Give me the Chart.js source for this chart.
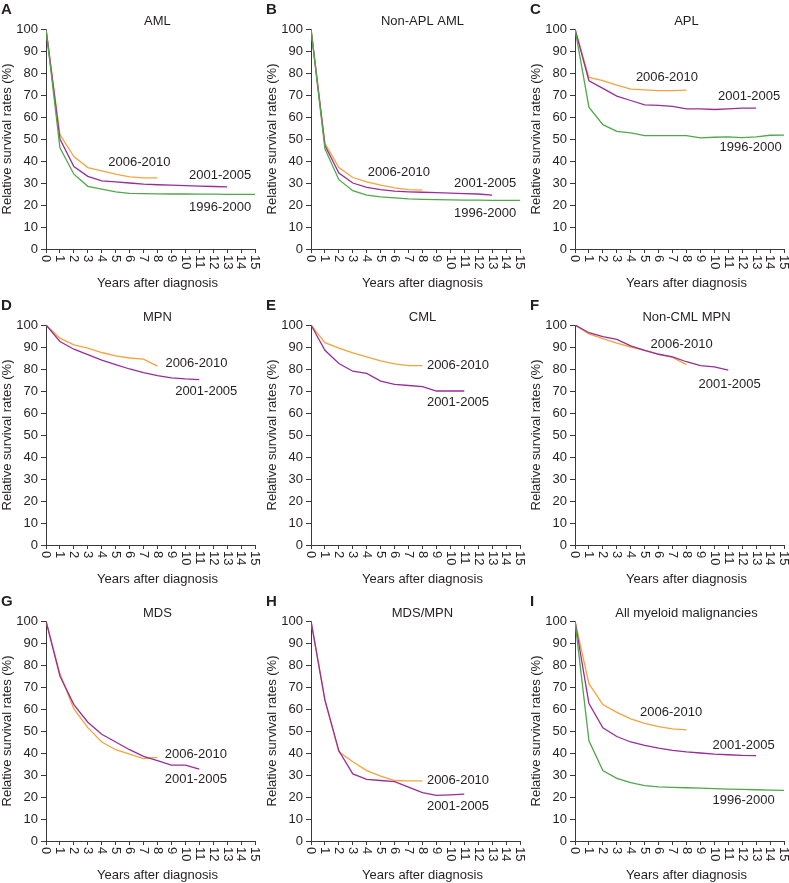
<!DOCTYPE html>
<html>
<head>
<meta charset="utf-8">
<script src="https://cdn.jsdelivr.net/npm/chart.js@4.4.1/dist/chart.umd.min.js"></script>
<style>
  body { margin:0; background:#fff; }
  #wrap { position:relative; width:789px; height:883px; overflow:hidden; }
  #wrap canvas { position:absolute; }
</style>
</head>
<body>
<div id="wrap"></div>
<script>
// ---------- data (relative survival %, by year after diagnosis) ----------
const years = [0,1,2,3,4,5,6,7,8,9,10,11,12,13,14,15];
const xTicks = years;
const yTicks = [0,10,20,30,40,50,60,70,80,90,100];
const periods = ['2006-2010','2001-2005','1996-2000'];

const aml2006 = [100,52,42,37,35.5,34,32.8,32.3,32.3];
const aml2001 = [100,50,37.5,33,31,30.5,30,29.5,29.2,29,28.8,28.6,28.4,28.2];
const aml1996 = [100,46,34,28.5,27.2,26,25.3,25.2,25.1,25,25,24.9,24.9,24.8,24.8,24.8];

const nonApl2006 = [100,48,37,32.5,30.5,29,27.8,27,26.8];
const nonApl2001 = [100,47,34.5,30,28,27,26.3,26,25.8,25.6,25.4,25.2,25,24.5];
const nonApl1996 = [100,45.5,31.5,26.5,24.5,23.7,23.2,22.8,22.6,22.4,22.3,22.2,22.2,22.1,22.1,22.1];

const apl2006 = [100,78,76.5,74.5,72.7,72.3,72,72,72.2];
const apl2001 = [100,76.5,73,69.5,67.5,65.5,65.3,64.8,63.7,63.7,63.4,63.7,64,64];
const apl1996 = [100,64.5,56.5,53.5,52.8,51.5,51.5,51.5,51.5,50.5,50.8,51,50.6,51,51.7,51.8];

const mpn2006 = [100,94,91,89.5,87.5,86,85,84.5,81.3];
const mpn2001 = [100,92.5,89,86.5,84,82,80,78.3,77,76,75.5,75.2];

const cml2006 = [100,92,89.5,87.3,85.5,83.7,82.3,81.5,81.5];
const cml2001 = [100,88.5,82.5,79,78,74.5,73,72.5,72,70,70,70];

const nonCml2006 = [100,96,93.8,91.8,90,88.5,86.8,85.3,82];
const nonCml2001 = [100,96.5,94.7,93.5,90.5,88.5,86.7,85.5,83.3,81.5,81,79.5];

const mds2006 = [100,76,60,51.5,45,41.5,39.5,37.5,38];
const mds2001 = [100,75,62,54,48.5,45,41.5,38.5,36.5,34.5,34.5,32.7];

const mdsMpn2006 = [100,64,40.5,36,32,29.5,27.5,27.3,27.3];
const mdsMpn2001 = [100,64,41,30.5,28,27.5,27,24.5,22,20.7,21,21.3];

const all2006 = [100,71.5,62,58.5,55.5,53.5,52,51,50.5];
const all2001 = [100,62.5,51.5,47.5,45,43.5,42.2,41.2,40.5,40,39.5,39.2,38.9,38.8];
const all1996 = [100,45.5,32,28.5,26.5,25.2,24.6,24.4,24.2,24,23.8,23.6,23.5,23.3,23.1,23];

const colors = { '2006-2010':'#f5a33c', '2001-2005':'#982d9a', '1996-2000':'#4fa84a' };

// label spots in data units [x, y]
const panels = [
  { letter:'A', title:'AML', series:[aml2006, aml2001, aml1996],
    notes:[[6.7,39.3],[12.5,33.5],[12.5,19]] },
  { letter:'B', title:'Non-APL AML', series:[nonApl2006, nonApl2001, nonApl1996],
    notes:[[6.3,34.7],[12.5,29.7],[12.5,16]] },
  { letter:'C', title:'APL', series:[apl2006, apl2001, apl1996],
    notes:[[6.6,78],[12.5,69.3],[12.6,46]] },
  { letter:'D', title:'MPN', series:[mpn2006, mpn2001],
    notes:[[10.8,82.5],[11.5,69.6]] },
  { letter:'E', title:'CML', series:[cml2006, cml2001],
    notes:[[10.55,81.5],[10.55,64.6]] },
  { letter:'F', title:'Non-CML MPN', series:[nonCml2006, nonCml2001],
    notes:[[7.65,91.3],[11.1,73]] },
  { letter:'G', title:'MDS', series:[mds2006, mds2001],
    notes:[[10.75,39.4],[10.75,28]] },
  { letter:'H', title:'MDS/MPN', series:[mdsMpn2006, mdsMpn2001],
    notes:[[10.55,27.6],[10.55,15.5]] },
  { letter:'I', title:'All myeloid malignancies', series:[all2006, all2001, all1996],
    notes:[[6.9,58.5],[12.1,43.6],[12.1,18.5]] },
];

const colLeft = [0, 265, 529];
const rowTop = [0, 296, 592];
const W = 261, H = 291;
const FONT = '"Liberation Sans", Arial, sans-serif';
const INK = '#231f20';
const AXIS = '#3a3a3a';

// ---------- panel decorations ----------
const panelText = {
  id: 'panelText',
  afterDraw(chart) {
    const p = chart.options.plugins.panelText;
    const ctx = chart.ctx, xs = chart.scales.x, ys = chart.scales.y, a = chart.chartArea;
    ctx.save();
    ctx.fillStyle = INK;

    ctx.font = 'bold 15px ' + FONT;
    ctx.textAlign = 'left'; ctx.textBaseline = 'top';
    ctx.fillText(p.letter, 1, 2);

    ctx.font = '13px ' + FONT;
    ctx.textAlign = 'center'; ctx.textBaseline = 'middle';
    ctx.fillText(p.title, xs.getPixelForValue(8), 21);

    // x tick labels, turned a quarter clockwise
    xTicks.forEach(v => {
      ctx.save();
      ctx.translate(xs.getPixelForValue(v), a.bottom + 6);
      ctx.rotate(Math.PI / 2);
      ctx.textAlign = 'left'; ctx.textBaseline = 'middle';
      ctx.fillText(String(v), 0, 0);
      ctx.restore();
    });

    ctx.fillText('Years after diagnosis', xs.getPixelForValue(8), 283);

    ctx.save();
    ctx.translate(7, (a.top + a.bottom) / 2);
    ctx.rotate(-Math.PI / 2);
    ctx.fillText('Relative survival rates (%)', 0, 0);
    ctx.restore();

    p.notes.forEach((n, i) => {
      ctx.fillText(periods[i], xs.getPixelForValue(n[0]), ys.getPixelForValue(n[1]));
    });
    ctx.restore();
  }
};

const wrap = document.getElementById('wrap');
panels.forEach((p, i) => {
  const cv = document.createElement('canvas');
  cv.width = W; cv.height = H;
  cv.style.left = colLeft[i % 3] + 'px';
  cv.style.top = rowTop[Math.floor(i / 3)] + 'px';
  cv.style.width = W + 'px'; cv.style.height = H + 'px';
  wrap.appendChild(cv);

  new Chart(cv, {
    type: 'line',
    data: {
      datasets: p.series.map((s, k) => ({
        label: periods[k],
        data: s.map((v, j) => ({ x: years[j], y: v })),
        borderColor: colors[periods[k]],
        borderWidth: 1.3,
        pointRadius: 0,
        tension: 0,
        fill: false
      })).reverse()
    },
    options: {
      responsive: false,
      animation: false,
      devicePixelRatio: 1,
      layout: { padding: { top: 29, right: 6, left: 0, bottom: 0 } },
      plugins: {
        legend: { display: false },
        tooltip: { enabled: false },
        panelText: { letter: p.letter, title: p.title, notes: p.notes }
      },
      scales: {
        x: {
          type: 'linear', min: 0, max: 15,
          afterBuildTicks: s => { s.ticks = xTicks.map(v => ({ value: v })); },
          ticks: { display: false },
          grid: { drawOnChartArea: false, drawTicks: true, tickLength: 4, color: AXIS, lineWidth: 1 },
          border: { color: AXIS, width: 1 },
          afterFit: s => { s.height = 42; }
        },
        y: {
          min: 0, max: 100,
          afterBuildTicks: s => { s.ticks = yTicks.map(v => ({ value: v })); },
          ticks: { color: INK, padding: 3, font: { family: FONT, size: 13 } },
          grid: { drawOnChartArea: false, drawTicks: true, tickLength: 5, color: AXIS, lineWidth: 1 },
          border: { color: AXIS, width: 1 },
          afterFit: s => { s.width = 46; }
        }
      }
    },
    plugins: [panelText]
  });
});
</script>
</body>
</html>
